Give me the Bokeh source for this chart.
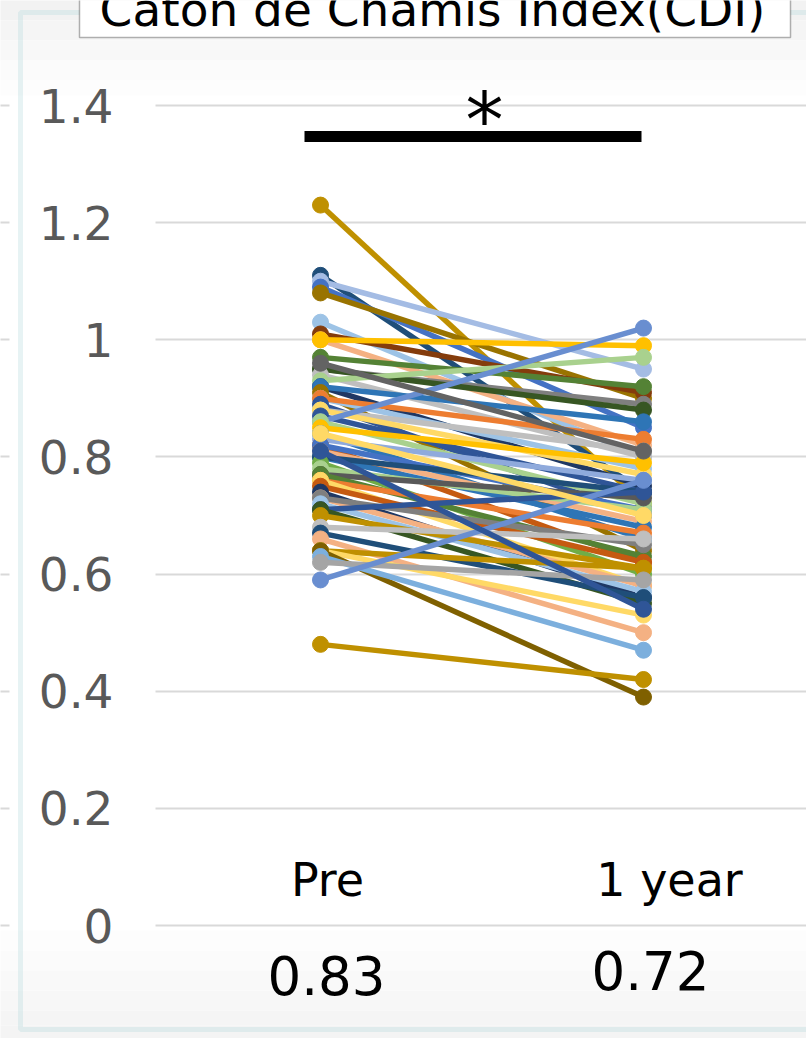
from bokeh.plotting import figure
from bokeh.models import (Range1d, LinearAxis, FixedTicker, Grid, BoxAnnotation,
                          Label, NumeralTickFormatter, ColumnDataSource)
from bokeh.core.properties import value
from bokeh.embed import file_html
from bokeh.resources import INLINE

# ---------------- data ----------------
timepoints = ["Pre", "1 year"]
means = [0.83, 0.72]
y_ticks = [0, 0.2, 0.4, 0.6, 0.8, 1.0, 1.2, 1.4]
title_text = "Caton de Chamis Index(CDI)"
sig_text = "*"

pre = [1.23, 1.11, 1.10, 1.09, 1.08, 1.03, 1.01, 1.00, 1.00, 0.97,
       0.95, 0.95, 0.94, 0.93, 0.92, 0.92, 0.91, 0.90, 0.90, 0.89,
       0.88, 0.88, 0.87, 0.86, 0.86, 0.85, 0.84, 0.83, 0.82, 0.82,
       0.81, 0.80, 0.80, 0.79, 0.78, 0.77, 0.77, 0.76, 0.76, 0.75,
       0.74, 0.73, 0.73, 0.72, 0.71, 0.71, 0.70, 0.68, 0.67, 0.66,
       0.64, 0.64, 0.64, 0.63, 0.62, 0.59, 0.48, 0.96, 0.84, 0.81]
post = [0.72, 0.74, 0.95, 0.85, 0.90, 0.80, 0.91, 0.82, 0.99, 0.92,
        0.89, 0.88, 0.80, 0.97, 0.75, 0.86, 0.64, 0.78, 0.83, 0.70,
        0.81, 0.77, 0.74, 1.02, 0.72, 0.79, 0.66, 0.76, 0.62, 0.71,
        0.69, 0.68, 0.74, 0.60, 0.71, 0.73, 0.63, 0.67, 0.58, 0.62,
        0.56, 0.58, 0.65, 0.57, 0.74, 0.55, 0.61, 0.66, 0.56, 0.50,
        0.61, 0.53, 0.39, 0.47, 0.59, 0.76, 0.42, 0.81, 0.70, 0.54]

palette = ["#BF9000", "#1F4E79", "#A4BCE4", "#4472C4", "#997300", "#9DC3E6",
           "#843C0C", "#F4B183", "#FFC000", "#548235", "#7F7F7F", "#375623",
           "#BFBFBF", "#A9D18E", "#1F3864", "#2E75B6", "#997300", "#9DC3E6",
           "#ED7D31", "#2F5597", "#BFBFBF", "#FFD966", "#2F5597", "#698ED0",
           "#A9D18E", "#FFC000", "#2E75B6", "#8FAADC", "#C55A11", "#4472C4",
           "#F4B183", "#2E75B6", "#1F4E79", "#70AD47", "#A9D18E", "#595959",
           "#548235", "#ED7D31", "#FFD966", "#C55A11", "#1F3864", "#F4B183",
           "#7F7F7F", "#9DC3E6", "#2F5597", "#375623", "#BF9000", "#BFBFBF",
           "#1F4E79", "#F4B183", "#BF9000", "#FFD966", "#7F6000", "#7CAFDD",
           "#A5A5A5", "#698ED0", "#BF9000", "#636363", "#FFD966", "#2F5597"]

FONT_NAME = "DejaVu Sans"
FONT = value(FONT_NAME)

# ---------------- figure ----------------
W, H = 806, 1038
# pixel mapping: x=1 at px 320, x=2 at px 643 ; v=0 at px 925, v=1.4 at px 105
px_per_x = 323.0
px_per_v = 585.7
x0 = 1 + (0 - 320) / px_per_x
x1 = x0 + W / px_per_x
v1 = 925 / px_per_v
v0 = v1 - H / px_per_v


def X(px):
    return 1 + (px - 320) / px_per_x


def V(py):
    return (925 - py) / px_per_v


p = figure(width=W, height=H, x_range=Range1d(x0, x1), y_range=Range1d(v0, v1),
           output_backend="svg", toolbar_location=None, min_border=0,
           x_axis_type=None, y_axis_type=None)
p.outline_line_color = None
p.background_fill_color = "white"
p.border_fill_color = "white"

# subtle slide gradient at bottom and top
bot_cols = ["#FDFDFD", "#FBFBFB", "#F9F9F9", "#F7F7F7", "#F5F5F5", "#F4F4F4"]
edges = [930, 950, 970, 990, 1010, 1025, 1040]
for i, c in enumerate(bot_cols):
    p.add_layout(BoxAnnotation(top=V(edges[i]), bottom=V(edges[i + 1]), left=x0 - 1, right=x1 + 1,
                               fill_color=c, fill_alpha=1, line_color=None, level="underlay"))
top_cols = ["#F2F2F2", "#F5F5F5", "#F8F8F8", "#FBFBFB", "#FDFDFD"]
tedges = [-5, 20, 40, 60, 80, 95]
for i, c in enumerate(top_cols):
    p.add_layout(BoxAnnotation(top=V(tedges[i]), bottom=V(tedges[i + 1]), left=x0 - 1, right=x1 + 1,
                               fill_color=c, fill_alpha=1, line_color=None, level="underlay"))

# grid lines
yticker = FixedTicker(ticks=y_ticks)
grid_left = X(155)
p.add_layout(Grid(dimension=1, ticker=yticker, grid_line_color="#D9D9D9", grid_line_width=2,
                  cross_bounds=(grid_left, x1 + 1)))
# stub of neighbouring chart's grid at far left
p.add_layout(Grid(dimension=1, ticker=yticker, grid_line_color="#D9D9D9", grid_line_width=2,
                  cross_bounds=(x0 - 1, X(9))))

# y axis
yaxis = LinearAxis(ticker=yticker, formatter=NumeralTickFormatter(format="0.[0]"),
                   fixed_location=grid_left, axis_line_color=None,
                   major_tick_line_color=None, minor_tick_line_color=None,
                   major_label_standoff=36, major_label_text_font_size="47px",
                   major_label_text_color="#595959", major_label_text_font=FONT_NAME)
p.add_layout(yaxis, "left")

# paired lines
for i in range(len(pre)):
    c = palette[i % len(palette)]
    p.line([1, 2], [pre[i], post[i]], line_color=c, line_width=5.5)
    p.scatter([1, 2], [pre[i], post[i]], marker="circle", size=16,
              fill_color=c, line_color=c)

# category labels (inside plot, above the 0 line)
csrc = ColumnDataSource(dict(x=[1, 2], y=[V(879), V(879)], t=timepoints, dx=[7, 26]))
p.text(x="x", y="y", text="t", source=csrc, x_offset="dx", text_align="center",
       text_baseline="alphabetic", text_font=FONT, text_font_size="46px", text_color="black")

# means under the axis
msrc = ColumnDataSource(dict(x=[1, 2], y=[V(975), V(970)], t=[f"{m:.2f}" for m in means], dx=[6, 7]))
p.text(x="x", y="y", text="t", source=msrc, x_offset="dx", text_align="center",
       text_baseline="alphabetic", text_font=FONT, text_font_size="53px", text_color="black")

# significance bar + asterisk
p.segment(x0=[X(304)], y0=[V(136)], x1=[X(641)], y1=[V(136)], line_color="black", line_width=11)
p.add_layout(Label(x=X(484), y=V(120), text=sig_text, text_align="center",
                   text_baseline="alphabetic", text_font=FONT_NAME,
                   text_font_size="76px", text_color="black"))

# teal chart border
p.add_layout(BoxAnnotation(left=X(20), right=x1 + 1, top=V(12), bottom=V(1029),
                           fill_alpha=0, line_color="#AED8DC", line_width=5))

# title box
p.add_layout(BoxAnnotation(left=X(79), right=X(790), bottom=V(37), top=v1 + 1,
                           fill_color="white", fill_alpha=1, line_color="black", line_width=1.5))
p.add_layout(Label(x=X(432), y=V(9), text=title_text,
                   text_align="center", text_baseline="alphabetic",
                   text_font=FONT_NAME, text_font_size="47px", text_color="black"))

open("out.html", "w").write(file_html(p, INLINE))
